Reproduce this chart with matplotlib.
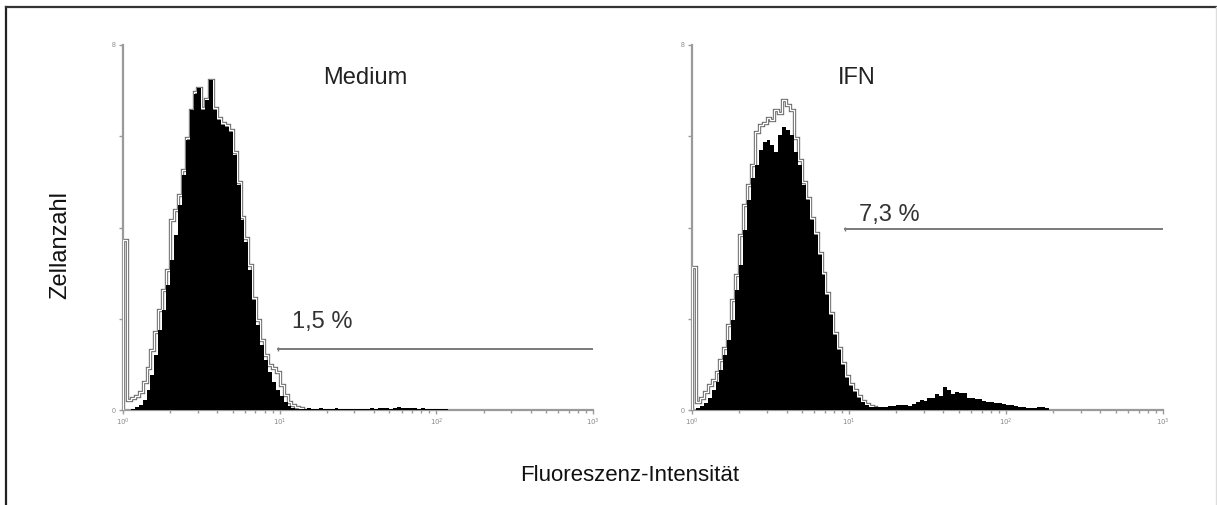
import numpy as np
import matplotlib
matplotlib.use("Agg")
import matplotlib.pyplot as plt
from matplotlib.lines import Line2D
from matplotlib.ticker import LogLocator, NullFormatter, FixedLocator

plt.rcParams['font.family'] = ['Liberation Sans', 'DejaVu Sans']

# channel width in decades (log scale, 10^0 .. 10^3)
DEC_PER_BIN = 0.025

# Medium: stained sample (black) and control (outline), cell counts per channel
medium_fill = [0, 0, 0.3, 0.8, 1.4, 2.7, 5.5, 9.6, 15.1, 21.9,
               27.4, 34.2, 41.1, 47.9, 56.2, 64.4, 74.0, 82.2, 86.6, 88.2,
               82.2, 84.9, 90.4, 82.2, 79.5, 78.1, 77.5, 76.2, 69.9, 61.6,
               52.1, 46.0, 38.4, 30.1, 23.3, 17.8, 13.7, 10.4, 7.7, 5.5,
               3.8, 2.2, 1.1, 0.5, 0.4, 0.3, 0.4, 0.5, 0.3, 0.3,
               0.5, 0.2, 0.3, 0.4, 0.5, 0.2, 0.3, 0.3, 0.4, 0.2,
               0.3, 0.4, 0.4, 0.5, 0.4, 0.5, 0.6, 0.5, 0.4, 0.6,
               0.7, 0.5, 0.6, 0.5, 0.6, 0.4, 0.5, 0.4, 0.3, 0.2,
               0.3, 0.2, 0.2, 0.1, 0]
medium_ctrl = [46.6, 2.7, 3.3, 3.8, 4.9, 7.7, 11.5, 16.4, 21.4, 27.4,
               32.9, 38.4, 52.1, 54.8, 58.9, 65.8, 74.5, 82.2, 87.1, 88.2,
               82.7, 85.2, 90.4, 82.7, 80.0, 78.6, 78.1, 76.7, 70.7, 62.5,
               52.9, 47.1, 39.7, 30.7, 24.7, 19.2, 15.1, 12.3, 11.5, 10.4,
               6.8, 4.1, 2.2, 1.4, 0.8, 0.5, 0]

# IFN
ifn_fill = [0, 0.5, 1.1, 1.9, 3.3, 5.5, 7.7, 11.0, 15.1, 19.2,
            24.7, 32.9, 39.7, 49.3, 57.5, 63.6, 67.1, 71.2, 73.4, 74.0,
            72.6, 70.7, 75.3, 77.5, 76.7, 75.3, 70.7, 67.1, 61.6, 57.5,
            52.1, 47.9, 42.5, 37.0, 31.5, 26.0, 20.5, 16.4, 12.3, 8.8,
            6.6, 4.9, 3.3, 2.2, 1.4, 0.8, 0.8, 0.8, 0.8, 0.8,
            1.1, 1.1, 1.4, 1.4, 1.4, 1.1, 1.6, 2.2, 2.7, 2.5,
            3.3, 3.3, 4.4, 3.8, 6.3, 5.5, 4.4, 4.9, 4.7, 4.7,
            3.3, 3.3, 3.0, 3.0, 2.5, 2.2, 2.2, 1.9, 1.9, 1.6,
            1.4, 1.4, 1.1, 0.8, 0.8, 0.5, 0.5, 0.5, 0.8, 0.8, 0.5, 0]
ifn_ctrl = [39.2, 2.2, 3.3, 4.9, 6.8, 8.2, 10.4, 13.7, 17.0, 23.3,
            30.1, 37.0, 47.9, 56.2, 61.6, 67.1, 76.2, 78.1, 78.6, 80.0,
            79.5, 82.2, 81.4, 84.9, 83.6, 82.2, 74.5, 68.5, 62.5, 58.1,
            52.6, 48.5, 43.0, 37.5, 32.1, 26.6, 21.1, 17.0, 12.9, 9.3,
            7.1, 5.5, 3.8, 2.5, 1.6, 1.1, 0.8, 0]

titles = ["Medium", "IFN"]
gate_labels = ["1,5 %", "7,3 %"]
gate_start = [9.7, 9.4]
gate_level = [16.7, 49.6]
label_pos = [(11.9, 24.0), (11.5, 53.5)]
title_pos = [(18.8, 91.0), (8.5, 91.0)]

fig = plt.figure(figsize=(12.17, 5.05), dpi=100)
axes = [fig.add_axes([0.1011, 0.1881, 0.3862, 0.7228]),
        fig.add_axes([0.5686, 0.1881, 0.3870, 0.7228])]

data = [(medium_fill, medium_ctrl), (ifn_fill, ifn_ctrl)]
axis_grey = '#9a9a9a'

for k, ax in enumerate(axes):
    fill, ctrl = data[k]
    e_ctrl = 10 ** (np.arange(len(ctrl) + 1) * DEC_PER_BIN)
    e_fill = 10 ** (np.arange(len(fill) + 1) * DEC_PER_BIN)
    ax.stairs(ctrl, e_ctrl, color='#6e6e6e', lw=2.4, zorder=2)
    ax.stairs(ctrl, e_ctrl, color='white', lw=0.9, zorder=3)
    ax.stairs(fill, e_fill, fill=True, color='black', zorder=4)

    ax.set_xscale('log')
    ax.set_xlim(1, 1000)
    ax.set_ylim(0, 100)

    for s in ['top', 'right']:
        ax.spines[s].set_visible(False)
    for s in ['left', 'bottom']:
        ax.spines[s].set_color(axis_grey)
        ax.spines[s].set_linewidth(1.6)

    ax.xaxis.set_major_locator(FixedLocator([1, 10, 100, 1000]))
    ax.xaxis.set_minor_locator(LogLocator(base=10, subs=np.arange(2, 10)))
    ax.xaxis.set_minor_formatter(NullFormatter())
    ax.set_xticklabels(['$10^0$', '$10^1$', '$10^2$', '$10^3$'])
    ax.set_yticks([0, 25, 50, 75, 100])
    ax.set_yticklabels(['0', '', '', '', '8'])
    ax.tick_params(axis='both', which='both', direction='out', colors=axis_grey,
                   labelsize=5, labelcolor='#8a8a8a', pad=2)
    ax.tick_params(axis='both', which='major', length=3, width=1)
    ax.tick_params(axis='x', which='minor', length=2, width=1)

    ax.plot([gate_start[k], 1000], [gate_level[k], gate_level[k]],
            color='#7a7a7a', lw=1.4, zorder=5)
    ax.plot([gate_start[k]], [gate_level[k]], marker='|', ms=3,
            color='#7a7a7a', zorder=5)
    ax.text(label_pos[k][0], label_pos[k][1], gate_labels[k], fontsize=17,
            color='#333333', va='center', ha='left')
    ax.text(title_pos[k][0], title_pos[k][1], titles[k], fontsize=17,
            color='#222222', va='center', ha='left')

fig.text(0.0493, 0.515, 'Zellanzahl', rotation=90, fontsize=17,
         ha='center', va='center', color='#111111')
fig.text(0.5175, 0.0594, 'Fluoreszenz-Intensität', fontsize=16,
         ha='center', va='center', color='#111111')

# outer frame (left and top dark, right faint)
fig.add_artist(Line2D([0.0049, 0.0049], [0.0, 0.986], color='#222222', lw=1.6))
fig.add_artist(Line2D([0.0049, 1.0], [0.986, 0.986], color='#333333', lw=1.6))
fig.add_artist(Line2D([0.9992, 0.9992], [0.0, 0.986], color='#dddddd', lw=1.0))

fig.savefig('out.png', dpi=100)
